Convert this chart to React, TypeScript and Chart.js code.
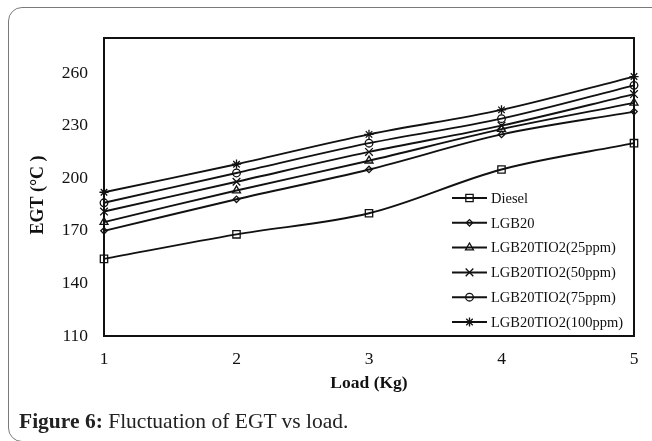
import { useEffect, useRef } from 'react';
import { Chart, registerables } from 'chart.js';
import { drawPoint } from 'chart.js/helpers';

Chart.register(...registerables);

// Exhaust gas temperature (°C) against engine load (kg)
const loads = ['1', '2', '3', '4', '5'];
const diesel = [154, 168, 180, 205, 220];
const lgb20 = [170, 188, 205, 225, 238];
const lgb20Tio2_25 = [175, 193, 210, 228, 243];
const lgb20Tio2_50 = [181, 198, 215, 230, 248];
const lgb20Tio2_75 = [186, 203, 220, 234, 253];
const lgb20Tio2_100 = [192, 208, 225, 239, 258];
const seriesNames = [
  'Diesel',
  'LGB20',
  'LGB20TIO2(25ppm)',
  'LGB20TIO2(50ppm)',
  'LGB20TIO2(75ppm)',
  'LGB20TIO2(100ppm)',
];
const yTickValues = [110, 140, 170, 200, 230, 260];
const yTitle = 'EGT (°C )';

const SERIF = "'Liberation Serif', 'Times New Roman', serif";
const INK = '#111';

const markerStyles = ['rect', 'rectRot', 'triangle', 'crossRot', 'circle', 'star'];
const markerRadii = [5.2, 3.2, 4.6, 5.4, 3.8, 4.6];

// Frame around the plotting area
const plotFrame = {
  id: 'plotFrame',
  beforeDatasetsDraw(chart: any) {
    const { ctx, chartArea: a } = chart;
    ctx.save();
    ctx.strokeStyle = INK;
    ctx.lineWidth = 2;
    ctx.strokeRect(a.left, a.top, a.right - a.left, a.bottom - a.top);
    ctx.restore();
  },
};

// Vertical axis title, set a little below the middle of the plot
const sideTitle = {
  id: 'sideTitle',
  afterDraw(chart: any, _args: any, opts: any) {
    const { ctx, chartArea: a } = chart;
    ctx.save();
    ctx.translate(opts.x, (a.top + a.bottom) / 2 + opts.drop);
    ctx.rotate(-Math.PI / 2);
    ctx.fillStyle = INK;
    ctx.font = `bold ${opts.fontSize}px ${SERIF}`;
    ctx.textAlign = 'center';
    ctx.textBaseline = 'middle';
    ctx.fillText(opts.text, 0, 0);
    ctx.restore();
  },
};

// Legend drawn inside the lower right of the plotting area
const insideLegend = {
  id: 'insideLegend',
  afterDatasetsDraw(chart: any, _args: any, opts: any) {
    const { ctx, chartArea: a } = chart;
    const x0 = a.right - opts.fromRight;
    const y0 = a.bottom - opts.fromBottom;
    ctx.save();
    chart.data.datasets.forEach((ds: any, i: number) => {
      const y = y0 + i * opts.rowGap;
      ctx.strokeStyle = INK;
      ctx.lineWidth = 2;
      ctx.beginPath();
      ctx.moveTo(x0, y);
      ctx.lineTo(x0 + opts.lineLength, y);
      ctx.stroke();
      ctx.fillStyle = 'rgba(0,0,0,0)';
      ctx.lineWidth = 1.3;
      drawPoint(
        ctx,
        { pointStyle: ds.pointStyle, radius: ds.pointRadius, rotation: 0, borderWidth: 1.3 } as any,
        x0 + opts.lineLength / 2,
        y
      );
      ctx.fillStyle = INK;
      ctx.font = `${opts.fontSize}px ${SERIF}`;
      ctx.textAlign = 'left';
      ctx.textBaseline = 'middle';
      ctx.fillText(ds.label, x0 + opts.lineLength + 4, y + 1);
    });
    ctx.restore();
  },
};

export default function App() {
  const canvasRef = useRef<HTMLCanvasElement | null>(null);

  useEffect(() => {
    const canvas = canvasRef.current;
    if (!canvas) return;
    const values = [diesel, lgb20, lgb20Tio2_25, lgb20Tio2_50, lgb20Tio2_75, lgb20Tio2_100];
    const chart = new Chart(canvas, {
      type: 'line',
      data: {
        labels: loads,
        datasets: values.map((v, i) => ({
          label: seriesNames[i],
          data: v,
          borderColor: INK,
          borderWidth: 1.9,
          tension: 0.33,
          pointStyle: markerStyles[i] as any,
          pointRadius: markerRadii[i],
          pointBorderWidth: 1.3,
          pointBorderColor: INK,
          pointBackgroundColor: 'rgba(0,0,0,0)',
          clip: false as any,
        })),
      },
      options: {
        responsive: false,
        animation: false,
        events: [],
        layout: { padding: { left: 0, right: 18, top: 38, bottom: 45 } },
        plugins: {
          legend: { display: false },
          tooltip: { enabled: false },
          sideTitle: { text: yTitle, x: 38, drop: 8, fontSize: 18 },
          insideLegend: {
            fromRight: 182,
            fromBottom: 138,
            rowGap: 24.8,
            lineLength: 35,
            fontSize: 14.5,
          },
        } as any,
        scales: {
          x: {
            type: 'category',
            offset: false,
            grid: { display: false, drawTicks: false },
            border: { display: false },
            ticks: {
              padding: 12.5,
              color: INK,
              font: { family: SERIF, size: 17.5 },
              maxRotation: 0,
            },
            title: {
              display: true,
              text: 'Load (Kg)',
              color: INK,
              font: { family: SERIF, size: 17.5, weight: 'bold' },
              padding: { top: 0, bottom: 2.5 },
            },
            afterFit(scale: any) {
              scale.height = 60;
            },
          },
          y: {
            type: 'linear',
            min: 110,
            max: 280,
            grid: { display: false, drawTicks: false },
            border: { display: false },
            afterBuildTicks(scale: any) {
              scale.ticks = yTickValues.map((value) => ({ value }));
            },
            ticks: {
              padding: 16,
              color: INK,
              font: { family: SERIF, size: 17.5 },
            },
            afterFit(scale: any) {
              scale.width = 104;
            },
          },
        },
      },
      plugins: [plotFrame, insideLegend, sideTitle],
    });
    return () => chart.destroy();
  }, []);

  return (
    <div style={{ position: 'absolute', left: 0, top: 0, width: 652, height: 441, overflow: 'hidden', background: '#fff' }}>
      <div
        style={{
          position: 'absolute',
          left: 8,
          top: 7,
          width: 700,
          height: 433,
          border: '1px solid #7a7a7a',
          borderRadius: 14,
        }}
      />
      <canvas ref={canvasRef} width={652} height={441} style={{ position: 'absolute', left: 0, top: 0 }} />
      <div
        style={{
          position: 'absolute',
          left: 19,
          top: 408,
          fontFamily: SERIF,
          fontSize: 21.5,
          lineHeight: '26px',
          color: '#222',
          whiteSpace: 'nowrap',
        }}
      >
        <b>Figure 6:</b> Fluctuation of EGT vs load.
      </div>
    </div>
  );
}
